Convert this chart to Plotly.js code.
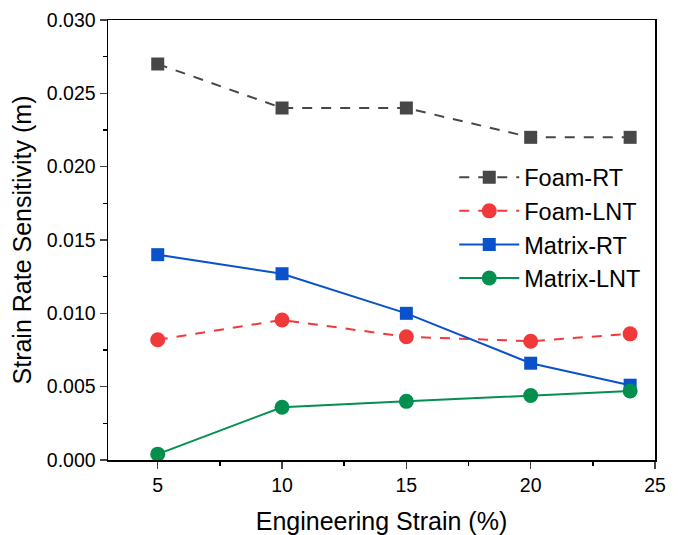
<!DOCTYPE html>
<html>
<head>
<meta charset="utf-8">
<script src="https://cdn.plot.ly/plotly-3.0.1.min.js"></script>
<style>html,body{margin:0;padding:0;background:#fff;}#chart{width:683px;height:535px;}</style>
</head>
<body>
<div id="chart"></div>
<script>
const strain = [5, 10, 15, 20, 24];
const foamRT = [0.0270, 0.0240, 0.0240, 0.0220, 0.0220];
const foamLNT = [0.0082, 0.00955, 0.0084, 0.0081, 0.0086];
const matrixRT = [0.0140, 0.0127, 0.0100, 0.0066, 0.0051];
const matrixLNT = [0.0004, 0.0036, 0.0040, 0.0044, 0.0047];
const seriesNames = ['Foam-RT', 'Foam-LNT', 'Matrix-RT', 'Matrix-LNT'];

const FONT = 'Liberation Sans, Arial, sans-serif';
const traces = [
  {x: strain, y: foamRT, name: seriesNames[0], mode: 'lines+markers',
   line: {color: '#474747', width: 2, dash: '10px,9px'},
   marker: {symbol: 'square', size: 13, color: '#474747'}},
  {x: strain, y: foamLNT, name: seriesNames[1], mode: 'lines+markers',
   line: {color: '#f2393a', width: 2, dash: '10px,9px'},
   marker: {symbol: 'circle', size: 15, color: '#f2393a'}},
  {x: strain, y: matrixRT, name: seriesNames[2], mode: 'lines+markers',
   line: {color: '#0a52cc', width: 2},
   marker: {symbol: 'square', size: 13, color: '#0a52cc'}},
  {x: strain, y: matrixLNT, name: seriesNames[3], mode: 'lines+markers',
   line: {color: '#03904f', width: 2},
   marker: {symbol: 'circle', size: 15, color: '#03904f'}}
];

const layout = {
  width: 683, height: 535,
  margin: {l: 108, r: 28, t: 20, b: 75},
  paper_bgcolor: '#fff', plot_bgcolor: '#fff',
  font: {family: FONT, color: '#000'},
  showlegend: true,
  legend: {x: 0.633, y: 0.692, xanchor: 'left', yanchor: 'top',
    font: {size: 23.5, family: FONT}, bgcolor: 'rgba(0,0,0,0)', itemwidth: 60,
    tracegroupgap: 0},
  xaxis: {
    range: [3, 25], tickvals: [5, 10, 15, 20, 25], ticks: 'outside', ticklen: 7, tickwidth: 1.5,
    showgrid: false, zeroline: false, showline: true, linecolor: '#000', linewidth: 1.5, mirror: true,
    tickfont: {size: 19.5, family: FONT},
    minor: {tickvals: [7.5, 12.5, 17.5, 22.5], ticks: 'outside', ticklen: 4, tickwidth: 1.5, tickcolor: '#000'},
    title: {text: 'Engineering Strain (%)', font: {size: 25, family: FONT}, standoff: 17}
  },
  yaxis: {
    range: [0, 0.030], tickvals: [0, 0.005, 0.010, 0.015, 0.020, 0.025, 0.030],
    ticktext: ['0.000', '0.005', '0.010', '0.015', '0.020', '0.025', '0.030'],
    ticks: 'outside', ticklen: 7, tickwidth: 1.5,
    showgrid: false, zeroline: false, showline: true, linecolor: '#000', linewidth: 1.5, mirror: true,
    tickfont: {size: 19.5, family: FONT},
    minor: {tickvals: [0.0025, 0.0075, 0.0125, 0.0175, 0.0225, 0.0275], ticks: 'outside', ticklen: 4, tickwidth: 1.5, tickcolor: '#000'},
    title: {text: 'Strain Rate Sensitivity (m)', font: {size: 25, family: FONT}, standoff: 8}
  }
};

Plotly.newPlot('chart', traces, layout, {displayModeBar: false, staticPlot: true});
</script>
</body>
</html>
